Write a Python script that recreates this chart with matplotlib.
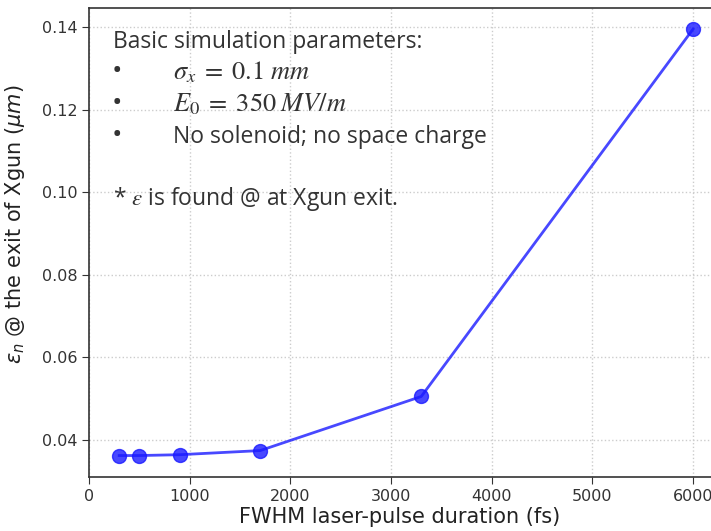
import numpy as np
import matplotlib.pyplot as plt

# pulse duration (fs) vs normalized emittance at the gun exit (um)
duracion_fs = [300, 500, 900, 1700, 3300, 6000]
emitancia_um = [0.0362, 0.0362, 0.0364, 0.0374, 0.0505, 0.1395]

xticks = [0, 1000, 2000, 3000, 4000, 5000, 6000]
yticks = [0.04, 0.06, 0.08, 0.10, 0.12, 0.14]

plt.rcParams['mathtext.fontset'] = 'stix'

fig = plt.figure(figsize=(7.11, 5.31), dpi=100)
ax = fig.add_axes([89 / 711, 54 / 531, 1 - 89 / 711, 469 / 531])

ax.plot(duracion_fs, emitancia_um, color='#1a1aff', alpha=0.8, lw=2,
        marker='o', markersize=10, markerfacecolor='#1a1aff',
        markeredgecolor='#1a1aff')

ax.set_xlim(0, 6178)
ax.set_ylim(0.031, 0.1446)
ax.set_xticks(xticks)
ax.set_yticks(yticks)
ax.set_yticklabels([f'{v:.2f}' for v in yticks])
ax.grid(True, linestyle=':', color='#cccccc', lw=1)
ax.tick_params(labelsize=11.5, colors='#333333', length=5)
for s in ['left', 'bottom', 'top']:
    ax.spines[s].set_color('#333333')
    ax.spines[s].set_linewidth(1.2)
ax.spines['right'].set_visible(False)

ax.set_xlabel('FWHM laser-pulse duration (fs)', fontsize=15, color='#222222', labelpad=2)
ax.set_ylabel(r'$\epsilon_n$ @ the exit of Xgun ($\mu m$)', fontsize=15,
              color='#222222', math_fontfamily='dejavusans')
ax.yaxis.set_label_coords(-0.1, 0.54)

# anotacion con los parametros de la simulacion
fuente = dict(fontsize=16.5, color='#333333', family='Open Sans',
              transform=fig.transFigure, va='baseline')
ax.text(113 / 711, 1 - 48 / 531, 'Basic simulation parameters:', **fuente)
lineas = [r'$\sigma_x\;=\;0.1\;mm$', r'$E_0\;=\;350\;MV/m$', 'No solenoid; no space charge']
bases = [79, 111, 143]
for t, yb in zip(lineas, bases):
    ax.text(112 / 711, 1 - yb / 531, '•', **{**fuente, 'fontsize': 20})
    tam = 19 if t.startswith('$') else 16.5
    ax.text(173 / 711, 1 - yb / 531, t, **{**fuente, 'fontsize': tam})
ax.text(113 / 711, 1 - 205 / 531, r'* $\varepsilon$ is found @ at Xgun exit.', **fuente)

plt.savefig('out.png', facecolor='white')
plt.close()
